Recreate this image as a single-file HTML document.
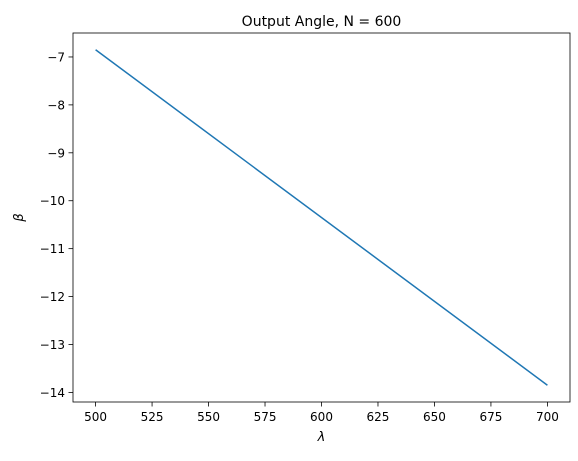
<!DOCTYPE html>
<html><head><meta charset="utf-8"><style>
body{margin:0;background:#fff;}
svg{font-family:"DejaVu Sans","Liberation Sans",sans-serif;}
</style></head><body>
<svg id="chart" width="578" height="456">
<rect x="0" y="0" width="578" height="456" fill="#fff"/>
<g id="plot"></g>
</svg>
<script>
const lambdas = [500, 700];
const betas = [-6.85, -13.85];
const xTicks = [500, 525, 550, 575, 600, 625, 650, 675, 700];
const yTicks = [-7, -8, -9, -10, -11, -12, -13, -14];
const L=73, R=570, T=33, B=402;
const xmin=490, xmax=710, ymin=-14.2, ymax=-6.5;
const sx=v=>L+(v-xmin)/(xmax-xmin)*(R-L);
const sy=v=>B-(v-ymin)/(ymax-ymin)*(B-T);
const g=document.getElementById('plot');
const NS='http://www.w3.org/2000/svg';
function mk(t,a){const e=document.createElementNS(NS,t);for(const k in a)e.setAttribute(k,a[k]);g.appendChild(e);return e;}
const pts=lambdas.map((x,i)=>sx(x)+','+sy(betas[i])).join(' ');
const line=mk('polyline',{points:pts,fill:'none',stroke:'#1f77b4','stroke-width':1.5});


xTicks.forEach(v=>{
 const x=sx(v);
 const t=mk('line',{x1:x,x2:x,y1:B,y2:B+4.5,stroke:'#000','stroke-width':0.8});
 
 
 const l=mk('text',{x:x,y:B+19,'text-anchor':'middle','font-size':12,fill:'#000'});
 l.textContent=v;
 
 
});
yTicks.forEach(v=>{
 const y=sy(v);
 const t=mk('line',{x1:L-4.5,x2:L,y1:y,y2:y,stroke:'#000','stroke-width':0.8});
 
 
 const l=mk('text',{x:L-8,y:y+4.5,'text-anchor':'end','font-size':12,fill:'#000'});
 l.textContent='\u2212'+Math.abs(v);
 
 
});
const fr=mk('rect',{x:L,y:T,width:R-L,height:B-T,fill:'none',stroke:'#000','stroke-width':0.8});


const ti=mk('text',{x:(L+R)/2,y:T-7,'text-anchor':'middle','font-size':14,fill:'#000'});
ti.textContent='Output Angle, N = 600';


const xl=mk('text',{x:(L+R)/2,y:441,'text-anchor':'middle','font-size':13,'font-style':'italic',fill:'#000'});
xl.textContent='λ';


const yl=mk('text',{x:0,y:0,'text-anchor':'middle','font-size':13,'font-style':'italic',fill:'#000',transform:'translate(23,'+((T+B)/2)+') rotate(-90)'});
yl.textContent='β';


</script>
</body></html>
